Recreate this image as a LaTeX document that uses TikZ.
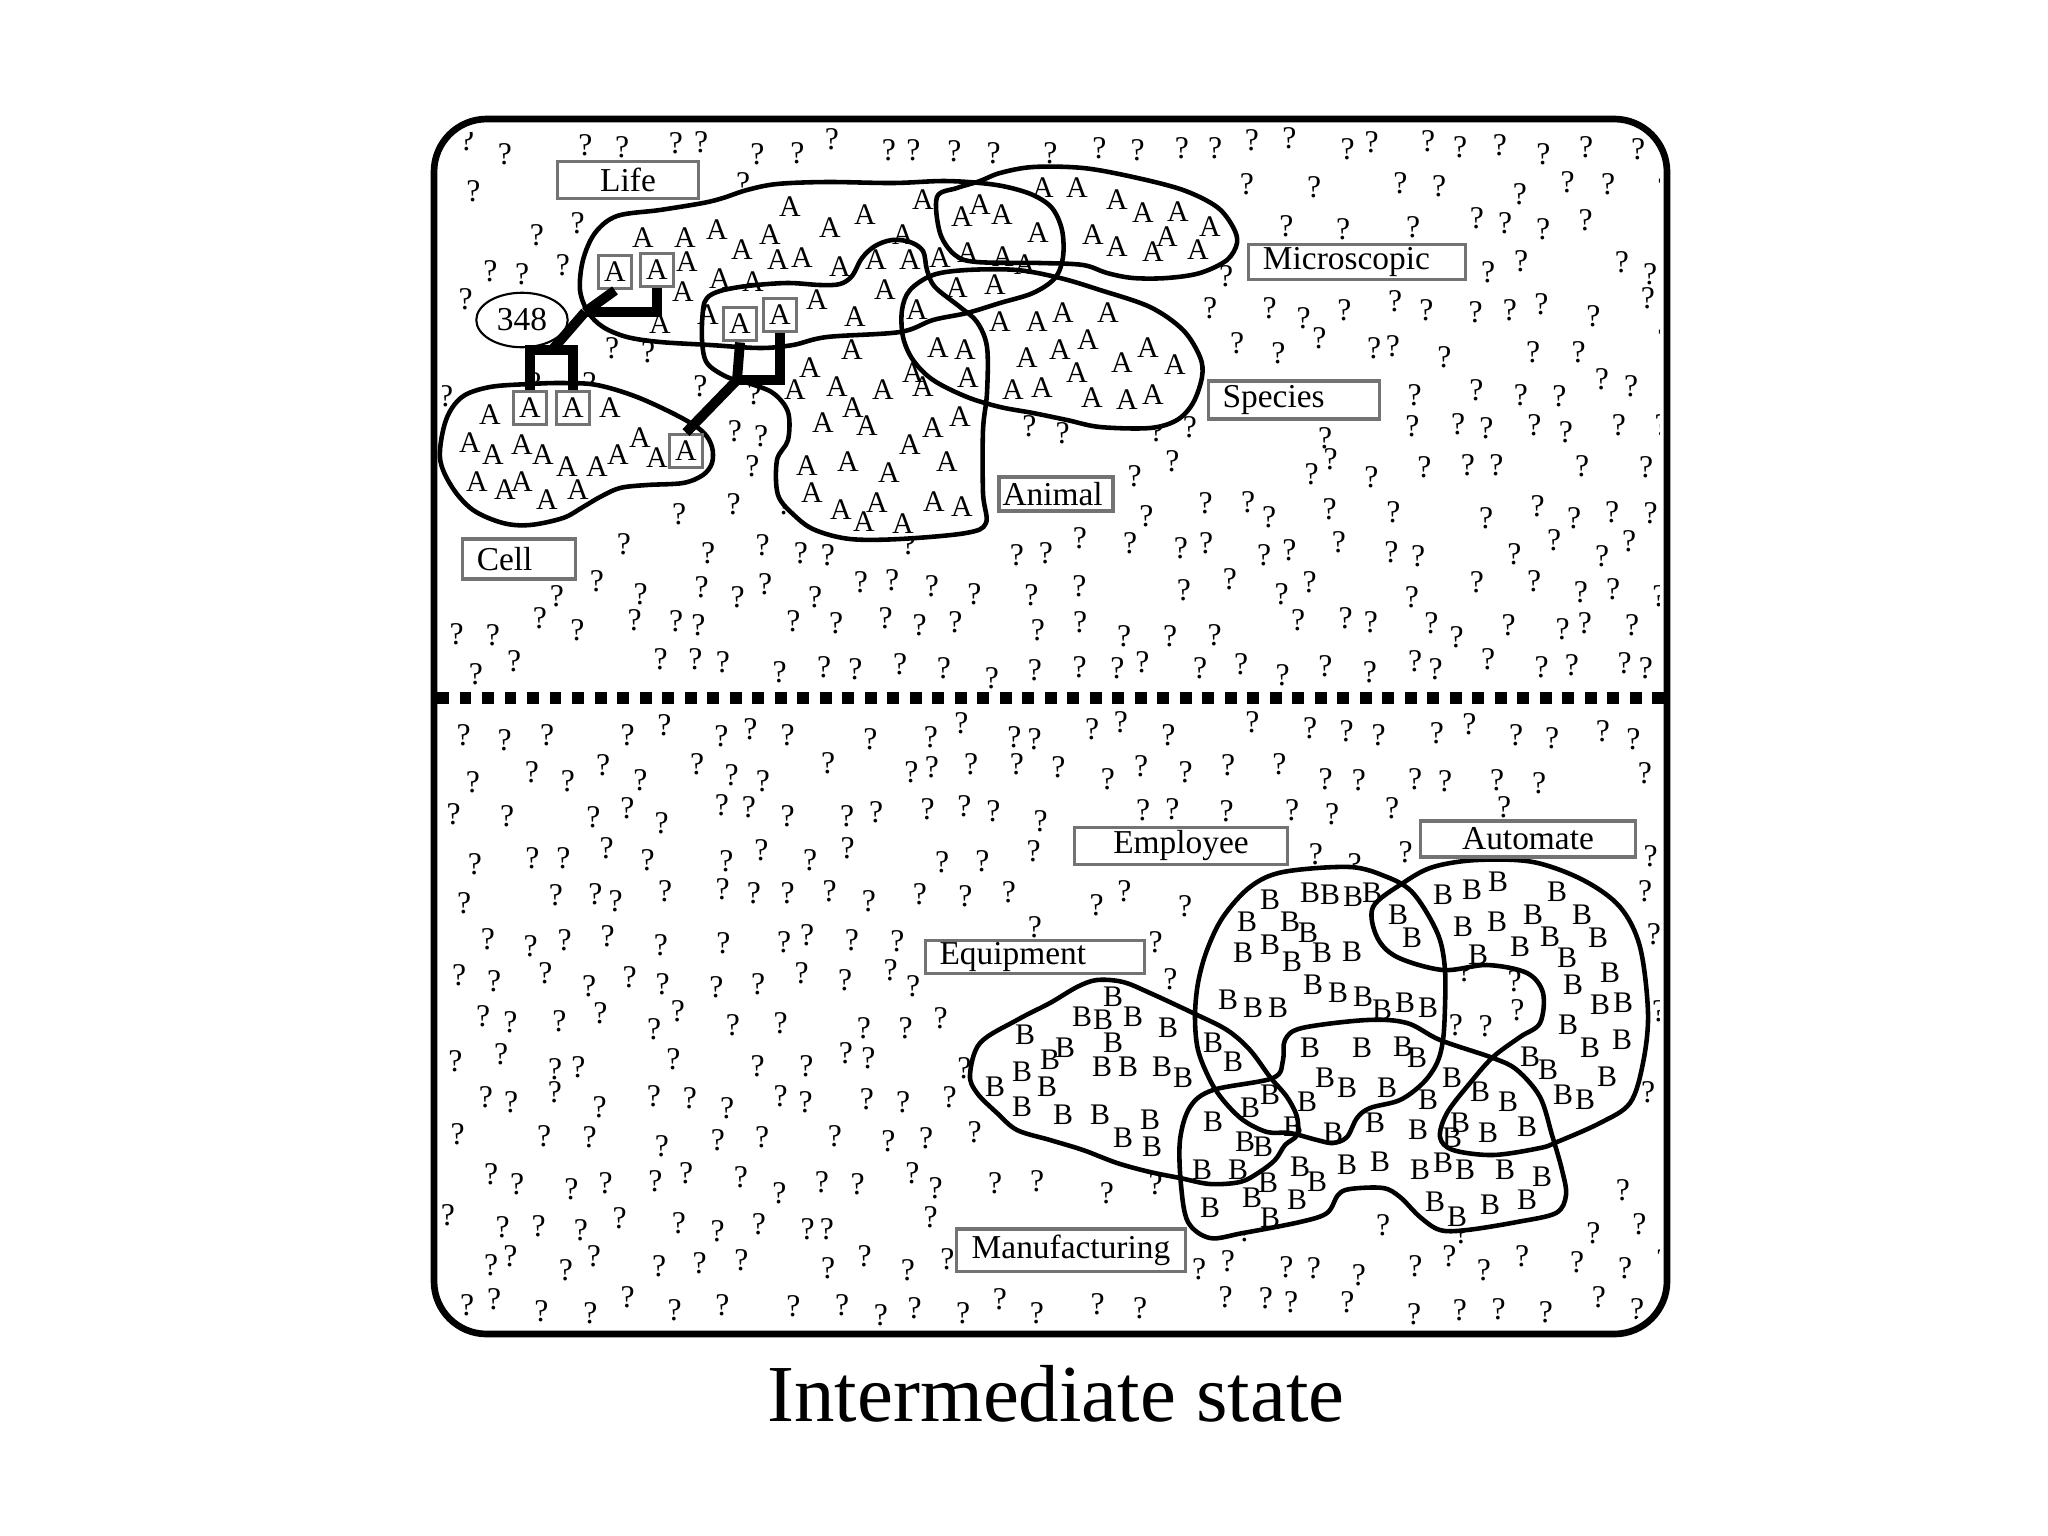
\documentclass[tikz,border=0pt]{standalone}
\usepackage{fontspec}
\setmainfont{Liberation Serif}
\usetikzlibrary{shapes.geometric}
\newcommand{\tagfont}{\fontsize{9.5}{10}\selectfont}
\newcommand{\glyphfont}{\fontsize{8.5}{9}\selectfont}
% zones sans points d'interrogation
\newcommand{\qzone}[4]{(\qx>#1)*(\qx<#2)*(\qy>#3)*(\qy<#4)}
\newcommand{\qhidden}{\qzone{600}{1045}{200}{335}+\qzone{945}{1230}{178}{270}+\qzone{910}{1195}{275}{425}%
  +\qzone{785}{985}{245}{535}+\qzone{705}{930}{285}{380}+\qzone{448}{600}{392}{520}+\qzone{600}{708}{395}{487}%
  +\qzone{1200}{1443}{875}{1135}+\qzone{1378}{1645}{865}{965}+\qzone{1540}{1645}{865}{1145}+\qzone{1470}{1645}{1060}{1150}%
  +\qzone{975}{1295}{985}{1180}+\qzone{1182}{1565}{1045}{1225}+\qzone{780}{960}{168}{200}%
  +\qzone{540}{716}{150}{211}+\qzone{1240}{1474}{232}{291}+\qzone{1200}{1389}{369}{431}+\qzone{990}{1122}{465}{523}%
  +\qzone{454}{584}{527}{591}+\qzone{1066}{1297}{816}{877}+\qzone{1412}{1645}{809}{869}+\qzone{917}{1154}{929}{986}%
  +\qzone{948}{1195}{1217}{1283}+\qzone{467}{577}{282}{358}+(rnd<0.12)}
\tikzset{
  blob/.style={line width=1.3pt, line join=round},
  qmark/.style={font=\fontsize{9}{9}\selectfont, inner sep=0pt},
  letter/.style={font=\glyphfont, inner sep=0pt},
  tag/.style={draw=black!55, line width=0.9pt, fill=white, font=\tagfont, inner xsep=4pt, inner ysep=0pt},
  abox/.style={draw=black!55, line width=0.9pt, fill=white, font=\glyphfont, minimum size=9.6pt, inner sep=0pt},
  link/.style={line width=2.8pt, line join=miter}
}

\begin{document}
\begin{tikzpicture}[x=0.01cm,y=-0.01cm]
  \useasboundingbox (0,0) rectangle (2048,1536);
  \pgfmathsetseed{4711}

  % cadre
  \draw[line width=1.9pt, rounded corners=15pt] (434,119) rectangle (1667,1334);

  % points d'interrogation
  \begin{scope}
    \clip[rounded corners=14pt] (442,127) rectangle (1659,1326);
    \foreach \i in {0,...,28}{
      \foreach \j in {0,...,13}{
        \pgfmathsetmacro{\qx}{446+\i*42+21*mod(\j,2)+26*rnd}
        \pgfmathsetmacro{\qy}{138+\j*40+20*rnd}
        \pgfmathtruncatemacro{\qhit}{\qhidden}
        \ifnum\qhit=0 \node[qmark] (qt-\i-\j) at (\qx,\qy) {?};\fi
      }
      \foreach \j in {0,...,14}{
        \pgfmathsetmacro{\qx}{446+\i*42+21*mod(\j,2)+26*rnd}
        \pgfmathsetmacro{\qy}{722+\j*41+20*rnd}
        \pgfmathtruncatemacro{\qhit}{\qhidden}
        \ifnum\qhit=0 \node[qmark] (qb-\i-\j) at (\qx,\qy) {?};\fi
      }
    }
  \end{scope}

  % contours
  \path[save path=\lifepath] plot[smooth cycle, tension=0.55] coordinates {(580,290) (583,260) (595,233) (617,216) (660,210) (703,203) (723,198) (747,190) (777,184) (827,182) (893,183) (943,181) (980,183) (1007,187) (1033,195) (1052,208) (1062,230) (1063,257) (1055,278) (1033,293) (1000,303) (967,313) (933,320) (900,332) (827,337) (793,345) (760,348) (710,345) (660,342) (627,337) (603,327) (588,312)};
  \path[save path=\micropath] plot[smooth cycle, tension=0.55] coordinates {(937,197) (957,188) (980,181) (1000,173) (1033,167) (1083,168) (1133,177) (1183,190) (1217,207) (1233,227) (1237,243) (1227,260) (1200,273) (1167,278) (1133,278) (1107,273) (1083,265) (1040,263) (977,262) (955,255) (940,233)};
  \path[save path=\speciespath] plot[smooth cycle, tension=0.55] coordinates {(902,310) (910,290) (933,275) (967,270) (1017,270) (1060,278) (1100,290) (1150,307) (1183,330) (1200,357) (1202,377) (1193,403) (1177,420) (1150,428) (1100,427) (1067,420) (1033,413) (1000,407) (967,397) (933,380) (913,360) (903,337)};
  \path[save path=\animalpath] plot[smooth cycle, tension=0.55] coordinates {(703,310) (707,298) (720,291) (747,286) (787,283) (820,285) (840,284) (852,276) (862,258) (875,246) (892,240) (910,242) (923,251) (927,270) (935,287) (960,307) (977,322) (987,347) (987,393) (983,430) (983,493) (986,523) (966,533) (900,539) (850,539) (815,530) (795,516) (778,495) (777,460) (788,440) (788,412) (773,393) (748,383) (727,377) (707,363) (702,340)};
  \path[save path=\cellpath] plot[smooth cycle, tension=0.55] coordinates {(440,458) (446,420) (462,397) (490,387) (530,384) (563,383) (597,385) (637,397) (680,417) (703,432) (712,447) (712,463) (703,475) (683,483) (647,485) (620,488) (600,497) (583,507) (563,518) (530,525) (503,523) (473,510) (452,487)};
  \path[save path=\emplpath] plot[smooth cycle, tension=0.55] coordinates {(1283,872) (1350,867) (1387,877) (1410,890) (1427,913) (1440,940) (1445,970) (1445,1007) (1443,1040) (1437,1063) (1423,1083) (1400,1100) (1370,1108) (1357,1118) (1347,1137) (1333,1143) (1317,1140) (1290,1133) (1267,1132) (1243,1120) (1223,1100) (1210,1080) (1198,1050) (1195,1017) (1198,983) (1207,950) (1223,917) (1250,887)};
  \path[save path=\autopath] plot[smooth cycle, tension=0.55] coordinates {(1373,907) (1377,937) (1397,957) (1443,970) (1487,965) (1527,973) (1543,993) (1540,1023) (1520,1037) (1493,1057) (1470,1083) (1447,1113) (1440,1137) (1453,1150) (1493,1155) (1540,1148) (1557,1142) (1600,1123) (1630,1103) (1643,1063) (1648,1013) (1640,947) (1620,907) (1583,880) (1533,862) (1477,860) (1433,867) (1403,883)};
  \path[save path=\equippath] plot[smooth cycle, tension=0.55] coordinates {(1097,980) (1123,982) (1150,993) (1193,1013) (1227,1030) (1250,1050) (1270,1077) (1287,1097) (1297,1117) (1297,1135) (1285,1145) (1275,1160) (1258,1173) (1240,1182) (1210,1184) (1180,1178) (1150,1172) (1117,1163) (1083,1150) (1050,1140) (1017,1130) (997,1113) (977,1093) (970,1075) (980,1043) (1017,1020) (1050,1003) (1077,987)};
  \path[save path=\manufpath] plot[smooth cycle, tension=0.55] coordinates {(1213,1090) (1273,1078) (1283,1060) (1285,1040) (1302,1028) (1367,1020) (1407,1023) (1440,1040) (1493,1058) (1517,1070) (1540,1097) (1552,1135) (1562,1170) (1566,1195) (1556,1213) (1517,1222) (1467,1230) (1440,1230) (1420,1217) (1400,1197) (1383,1188) (1350,1189) (1338,1195) (1327,1213) (1300,1222) (1243,1233) (1210,1238) (1188,1222) (1181,1185) (1180,1140) (1190,1107)};

  \fill[white, use path=\lifepath];
  \fill[white, use path=\micropath];
  \fill[white, use path=\speciespath];
  \fill[white, use path=\animalpath];
  \fill[white, use path=\cellpath];
  \fill[white, use path=\emplpath];
  \fill[white, use path=\autopath];
  \fill[white, use path=\equippath];
  \fill[white, use path=\manufpath];

  \draw[blob, use path=\lifepath];
  \draw[blob, use path=\micropath];
  \draw[blob, use path=\speciespath];
  \draw[blob, use path=\animalpath];
  \draw[blob, use path=\cellpath];
  \draw[blob, use path=\emplpath];
  \draw[blob, use path=\autopath];
  \draw[blob, use path=\equippath];
  \draw[blob, use path=\manufpath];

  % lettres A
  \foreach \x/\y [count=\n] in {790/207, 865/215, 830/228, 643/238, 685/238, 717/230, 770/235, 742/250, 778/260, 802/258, 840/267, 876/260, 903/235, 687/262, 683/292, 720/279, 753/282, 660/324, 708/315, 817/300, 855/317, 885/290,
    923/200, 962/217, 980/205, 1002/215, 1038/233, 968/253, 1003/257, 1025/265, 940/258, 910/260,
    1043/188, 1077/188, 1117/200, 1143/213, 1178/212, 1210/227, 1167/237, 1093/235, 1117/247, 1153/252, 1198/250,
    957/288, 995/285, 917/310, 1000/322, 1037/322, 1063/313, 1108/313, 1088/340, 1060/350, 1027/358, 1122/363, 1148/348, 1175/365, 1077/373, 1013/390, 1042/388, 1092/398, 1127/400, 1153/395, 938/348, 965/350, 968/378, 913/373, 923/387, 933/428, 960/417, 910/445,
    852/350, 810/368, 795/390, 837/387, 883/390, 853/408, 823/423, 867/426, 848/462, 807/466, 889/473, 812/493, 841/510, 864/522, 877/503, 903/524, 934/502, 962/507, 947/462,
    490/415, 610/408, 470/443, 493/455, 522/445, 543/455, 567/467, 597/467, 618/455, 640/438, 657/458, 477/482, 505/490, 522/482, 547/500, 578/490}
    \node[letter] (la\n) at (\x,\y) {A};

  % lettres B
  \foreach \x/\y [count=\n] in {1113/997, 1082/1017, 1103/1020, 1133/1017, 1168/1028, 1025/1035, 1065/1048, 1050/1060, 1113/1043, 1102/1067, 1128/1067, 1162/1067, 1183/1078, 1022/1072, 1047/1087, 995/1087, 1022/1107, 1063/1115, 1100/1115, 1150/1120, 1123/1138, 1152/1147,
    1270/900, 1247/922, 1290/922, 1270/945, 1243/953, 1292/962, 1228/1000, 1253/1008, 1278/1008, 1213/1043, 1233/1062, 1270/1095, 1250/1108, 1213/1122, 1245/1142, 1263/1147, 1293/1127, 1202/1170, 1238/1170, 1268/1183, 1210/1208, 1252/1198, 1297/1200, 1270/1218,
    1310/893, 1330/895, 1353/897, 1372/893, 1398/915, 1412/938, 1308/933, 1322/953, 1352/952, 1313/985, 1338/993, 1363/997, 1382/1010, 1405/1003, 1428/1008,
    1443/895, 1472/890, 1498/882, 1557/892, 1463/927, 1497/922, 1533/915, 1582/915, 1550/937, 1598/938, 1478/955, 1520/947, 1567/958, 1610/973, 1573/985, 1600/1005, 1623/1003, 1568/1025, 1590/1048, 1622/1040, 1530/1057, 1548/1070, 1607/1077, 1563/1095, 1585/1100,
    1310/1048, 1362/1048, 1403/1047, 1417/1058, 1325/1078, 1347/1088, 1387/1088, 1307/1102, 1452/1078, 1428/1100, 1480/1092, 1508/1102, 1375/1123, 1418/1130, 1460/1123, 1452/1138, 1488/1133, 1527/1127, 1333/1133,
    1347/1165, 1380/1162, 1420/1170, 1443/1163, 1465/1170, 1505/1170, 1542/1177, 1435/1202, 1457/1217, 1490/1205, 1527/1200, 1300/1167, 1317/1182}
    \node[letter] (lb\n) at (\x,\y) {B};

  % A encadrés et liens
  \node[draw, ellipse, line width=0.6pt, fill=white, font=\tagfont, inner sep=0pt, minimum width=26pt, minimum height=15.5pt] (n348) at (522,320) {348};
  \node[abox] (a1) at (615,272) {A};
  \node[abox] (a2) at (657,270) {A};
  \node[abox] (a3) at (740,324) {A};
  \node[abox] (a4) at (780,315) {A};
  \node[abox] (a5) at (686,451) {A};
  \node[abox] (a6) at (530,408) {A};
  \node[abox] (a7) at (573,408) {A};
  \coordinate (j1) at (585,312);
  \coordinate (k1) at (552,350);
  \coordinate (j2) at (737,380);
  \draw[link] (a1.south) -- (j1);
  \draw[link] (a2.south) |- (j1);
  \draw[link] (j1) -- (k1);
  \draw[link] (a6.north) |- (k1) -| (a7.north);
  \draw[link] (a3.south) -- (j2);
  \draw[link] (a4.south) |- (j2);
  \draw[link] (j2) -- (a5.north);

  % étiquettes
  \node[tag, text width=32pt, align=center, minimum height=10.5pt] (life) at (628,180) {Life};
  \node[tag, text width=53.5pt, align=left, minimum height=10pt] (micro) at (1357,262) {Microscopic};
  \node[tag, text width=40.6pt, align=left, minimum height=10.8pt] (species) at (1294,400) {Species};
  \node[tag, text width=30.4pt, inner xsep=1pt, align=left, minimum height=9.7pt] (animal) at (1056,494) {Animal};
  \node[tag, text width=24pt, align=left, minimum height=11.4pt] (cell) at (519,559) {Cell};
  \node[tag, text width=52.6pt, align=center, minimum height=10.5pt] (employee) at (1181,846) {Employee};
  \node[tag, text width=53.2pt, align=center, minimum height=10.2pt] (automate) at (1528,839) {Automate};
  \node[tag, text width=54.3pt, align=left, minimum height=9.4pt] (equipment) at (1035,957) {Equipment};
  \node[tag, text width=57.2pt, align=center, minimum height=12pt] (manuf) at (1071,1250) {Manufacturing};

  % séparation
  \draw[line width=3.2pt, dash pattern=on 3.4pt off 3pt] (437,698) -- (1664,698);

  \node[font=\fontsize{23}{26}\selectfont, anchor=base, inner sep=0pt] (title) at (1056,1421) {Intermediate state};
\end{tikzpicture}
\end{document}
